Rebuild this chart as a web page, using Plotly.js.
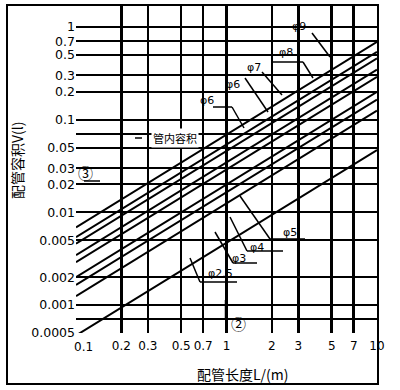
<!DOCTYPE html>
<html><head><meta charset="utf-8">
<script src="https://cdn.plot.ly/plotly-3.0.1.min.js"></script>
<style>html,body{margin:0;padding:0;background:#fff}</style>
</head><body>
<div id="chart" style="width:400px;height:390px"></div>
<script>
// Pipe length (m) on x, pipe volume (l) on y
const lengthRange = [0.1, 10];
const lineNames = ["φ9", "φ8", "φ7", "φ6", "φ6", "φ5", "φ4", "φ3", "φ2.5"];
const volPerMetre = [0.069, 0.054, 0.046, 0.0346, 0.029, 0.020, 0.0165, 0.0125, 0.0047];
const xTickVals = [0.1, 0.2, 0.3, 0.5, 0.7, 1, 2, 3, 5, 7, 10];
const xTickText = ["", "0.2", "0.3", "0.5", "0.7", "1", "2", "3", "5", "7", "10"];
const firstXLabel = "0.1";
const yTickVals = [1, 0.7, 0.5, 0.3, 0.2, 0.1, 0.05, 0.03, 0.02, 0.01, 0.005, 0.002, 0.001, 0.0005];
const yTickText = ["1", "0.7", "0.5", "0.3", "0.2", "0.1", "0.05", "0.03", "0.02", "0.01", "0.005", "0.002", "0.001", "0.0005"];
const yMinorVals = [0.07, 0.0007];

const L = 76, R = 377, T = 5, B = 333;
const X = px => (px - L) / (R - L);
const Y = py => (B - py) / (B - T);

const traces = volPerMetre.map((v, i) => ({
  x: lengthRange,
  y: lengthRange.map(l => v * l),
  mode: 'lines',
  name: lineNames[i],
  line: {color: '#000', width: 2},
  showlegend: false,
  hoverinfo: 'skip'
}));

const labels = [
  ["φ9", 299, 27], ["φ8", 286, 52], ["φ7", 254, 68], ["φ6", 233, 84], ["φ6", 207, 100],
  ["φ5", 290, 232], ["φ4", 257, 247], ["φ3", 239, 258], ["φ2.5", 220, 273]
];
const leaders = [
  [312, 33, 330, 57], [273, 62, 303, 62], [303, 62, 313, 78], [262, 72, 282, 95],
  [245, 78, 268, 112], [213, 107, 232, 107], [232, 107, 244, 128],
  [270, 239, 305, 239], [270, 239, 240, 196], [247, 251, 283, 251], [247, 251, 230, 217],
  [233, 263, 257, 263], [233, 263, 215, 232], [200, 282, 237, 282], [200, 282, 190, 258],
  [135, 138, 142, 138], [84, 181, 100, 181]
];

const ann = (text, x, y, size, family, extra) => Object.assign({
  text: text, xref: 'paper', yref: 'paper', x: X(x), y: Y(y), showarrow: false,
  xanchor: 'center', yanchor: 'middle',
  font: {family: family, size: size, color: '#000'}
}, extra || {});

const annotations = labels.map(([t, x, y]) => ann(t, x, y, 11, 'DejaVu Sans'));
annotations.push(
  ann('管内容积', 175, 138, 11, 'Noto Sans CJK SC', {bgcolor: '#fff'}),
  ann('③', 85, 172, 15, 'Noto Sans CJK SC'),
  ann('②', 238, 323, 15, 'Noto Sans CJK SC'),
  ann(firstXLabel, 83, 347, 12, 'DejaVu Sans'),
  ann('配管容积V(l)', 17, 160, 14, 'Noto Sans CJK SC', {textangle: -90}),
  ann('配管长度L/(m)', 243, 374, 14, 'Noto Sans CJK SC')
);

const shapes = leaders.map(([x0, y0, x1, y1]) => ({
  type: 'line', xref: 'paper', yref: 'paper', x0: X(x0), y0: Y(y0), x1: X(x1), y1: Y(y1),
  line: {color: '#000', width: 1.5}
}));
shapes.push({type: 'line', xref: 'paper', yref: 'paper', x0: X(226), y0: Y(300), x1: X(226), y1: Y(320),
  line: {color: '#000', width: 2.5}});
shapes.push({type: 'rect', xref: 'paper', yref: 'paper', x0: X(7), x1: X(378), y0: Y(384), y1: Y(5),
  line: {color: '#000', width: 2}});

const layout = {
  width: 400, height: 390,
  margin: {l: L, r: 400 - R, t: T, b: 390 - B},
  paper_bgcolor: '#fff', plot_bgcolor: '#fff',
  showlegend: false,
  xaxis: {
    type: 'log', range: [Math.log10(0.1), Math.log10(10)],
    tickmode: 'array', tickvals: xTickVals, ticktext: xTickText,
    showgrid: true, gridcolor: '#000', gridwidth: 2.5,
    zeroline: false, showline: false, ticks: '', ticklabelstandoff: 4,
    tickfont: {family: 'DejaVu Sans', size: 12, color: '#000'}
  },
  yaxis: {
    type: 'log', range: [Math.log10(0.0005), 0.237],
    tickmode: 'array', tickvals: yTickVals, ticktext: yTickText,
    showgrid: true, gridcolor: '#000', gridwidth: 2,
    minor: {tickmode: 'array', tickvals: yMinorVals, showgrid: true, gridcolor: '#000', gridwidth: 2, ticks: ''},
    zeroline: false, showline: false, ticks: '',
    tickfont: {family: 'DejaVu Sans', size: 12.5, color: '#000'}
  },
  annotations: annotations,
  shapes: shapes
};

Plotly.newPlot('chart', traces, layout, {staticPlot: true, displayModeBar: false});
</script>
</body></html>
